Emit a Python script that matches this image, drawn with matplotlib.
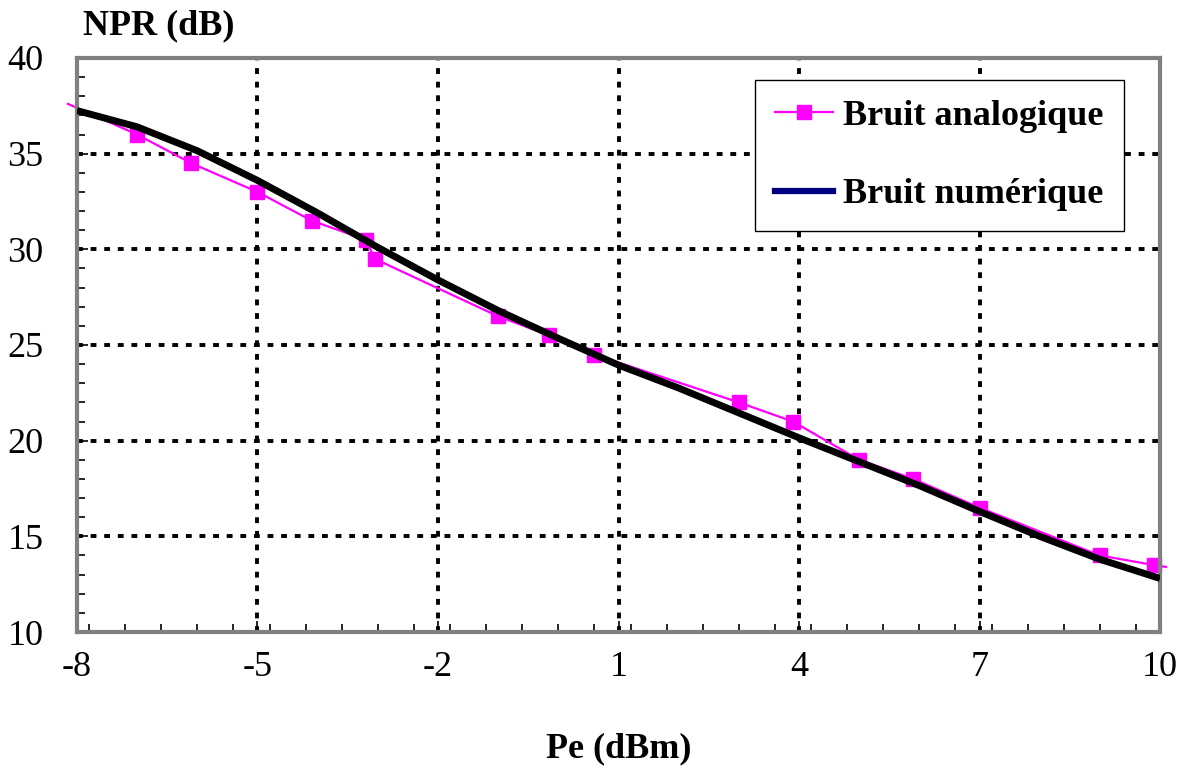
import numpy as np
import matplotlib
matplotlib.use("Agg")
import matplotlib.pyplot as plt
from matplotlib.lines import Line2D
from matplotlib.ticker import MultipleLocator

# measured NPR, analog noise (Pe in dBm, NPR in dB)
pe_ana = [-8.15, -7.0, -6.1, -5.0, -4.1, -3.2, -3.05, -1.0, -0.15, 0.6,
          3.0, 3.9, 5.0, 5.9, 7.0, 9.0, 9.9, 10.1]
npr_ana = [37.6, 36.0, 34.5, 33.0, 31.5, 30.5, 29.5, 26.5, 25.5, 24.5,
           22.0, 21.0, 19.0, 18.0, 16.5, 14.0, 13.5, 13.4]

# simulated NPR, digital noise
pe_num = [-8, -7, -6, -5, -4, -3, -2, -1, 0, 1, 2, 3, 4, 5, 6, 7, 8, 9, 10]
npr_num = [37.25, 36.4, 35.15, 33.6, 31.9, 30.1, 28.4, 26.8, 25.35, 23.95,
           22.75, 21.45, 20.15, 18.9, 17.65, 16.3, 15.0, 13.8, 12.8]

xticks = [-8, -5, -2, 1, 4, 7, 10]
yticks = [10, 15, 20, 25, 30, 35, 40]

plt.rcParams['font.family'] = ['Liberation Serif', 'DejaVu Serif']

fig = plt.figure(figsize=(11.9, 7.7), dpi=100)
ax = fig.add_axes([0.0647, 0.1792, 0.9101, 0.7455])

grid_style = dict(color='black', lw=2.8, linestyle=(0, (1.5, 2.0)), zorder=1)
for x in xticks[1:-1]:
    ax.axvline(x, **grid_style)
for y in yticks[1:-1]:
    ax.axhline(y, **grid_style)

ax.plot(pe_num, npr_num, color='black', lw=5.0, zorder=3, solid_capstyle='butt',
        solid_joinstyle='round')
ax.plot(pe_ana, npr_ana, color='#ff00ff', lw=1.6, marker='s', markersize=10.5,
        markevery=list(range(1, len(pe_ana) - 1)), clip_on=False, zorder=2)

ax.set_xlim(-8, 10)
ax.set_ylim(10, 40)
ax.set_xticks(xticks)
ax.set_yticks(yticks)
ax.xaxis.set_minor_locator(MultipleLocator(0.6))
ax.yaxis.set_minor_locator(MultipleLocator(1))
ax.tick_params(which='both', direction='in', top=False, right=False,
               color='black', width=1.2)
ax.tick_params(which='major', length=8, labelsize=26)
ax.tick_params(which='minor', length=6)
ax.tick_params(axis='x', pad=14)
ax.tick_params(axis='y', pad=24)
ax.set_xticklabels([str(v) for v in xticks])
ax.set_yticklabels([str(v) for v in yticks])

for s in ax.spines.values():
    s.set_color('#808080')
    s.set_linewidth(3)

fig.text(0.070, 0.967, 'NPR (dB)', fontsize=26, fontweight='bold',
         ha='left', va='center')
fig.text(0.520, 0.028, 'Pe (dBm)', fontsize=26, fontweight='bold',
         ha='center', va='center')

handles = [
    Line2D([], [], color='#ff00ff', lw=1.6, marker='s', markersize=10.5),
    Line2D([], [], color='#000080', lw=4.5),
]
leg = ax.legend(handles, ['Bruit analogique', 'Bruit numérique'],
                loc='upper left', bbox_to_anchor=(0.626, 0.962),
                prop={'weight': 'bold', 'size': 26}, frameon=True,
                fancybox=False, framealpha=1, edgecolor='black',
                handlelength=1.6, handletextpad=0.3, labelspacing=1.25,
                borderpad=0.55, borderaxespad=0)
leg.get_frame().set_linewidth(1.0)
leg.set_zorder(5)

fig.savefig('out.png', dpi=100)
